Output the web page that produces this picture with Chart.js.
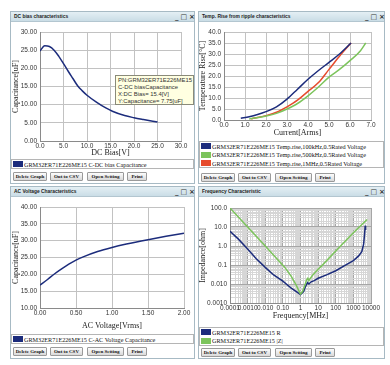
<!DOCTYPE html>
<html><head><meta charset="utf-8">
<script src="https://cdn.jsdelivr.net/npm/chart.js@4.4.0/dist/chart.umd.min.js"></script>
<style>
body{margin:0;width:390px;height:365px;background:#fff;position:relative;overflow:hidden;font-family:"Liberation Sans",Arial,sans-serif}
.panel{position:absolute;border:1px solid #a7bac4;background:#fff;box-sizing:border-box}
.tbar{position:absolute;height:10px;background:linear-gradient(#e4eff4,#cadde6);border-bottom:1px solid #b3c6d0;font:bold 4.9px "Liberation Sans";color:#222;line-height:10px;padding-left:3px;box-sizing:border-box}
.ctl{position:absolute;font:bold 7px "DejaVu Sans";color:#333;line-height:10px;letter-spacing:2px}
.legend{position:absolute;border:1px solid #b5b5b5;background:#fff;font:6.2px "Liberation Serif";color:#111;box-sizing:border-box}
.lrow{position:absolute;left:1px;height:7px;line-height:7px;white-space:nowrap}
.sw{display:inline-block;width:10px;height:6px;vertical-align:top;margin-right:1px;margin-top:0.5px}
.btn{position:absolute;height:9px;border:1px solid #9a9a9a;border-radius:1px;background:linear-gradient(#fdfdfd,#d9d9d9);font:bold 5px "Liberation Serif";text-align:center;line-height:8px;box-sizing:border-box;color:#111;white-space:nowrap}
canvas{position:absolute}
.tip{position:absolute;left:115px;top:75px;width:79px;height:30px;background:#ffffe1;border:1px solid #8a8a7a;box-sizing:border-box;font:5.9px "Liberation Sans";color:#333;line-height:7px;padding:1px 0 0 2px;white-space:nowrap;overflow:hidden}
</style></head>
<body>
<script>
// ---------------- DATA ----------------
const dcBiasV   = [0, 1, 2, 3, 4, 5, 6, 7, 8, 9, 10, 12, 14, 15.4, 18, 20, 22, 25];
const dcBiasCap = [24.8, 26.2, 26.0, 25.0, 23.3, 21.3, 19.2, 17.2, 15.2, 13.8, 12.6, 10.7, 9.1, 8.2, 7.0, 6.4, 5.9, 5.2];
const dcBiasXTicks = ['0.0','5.0','10.0','15.0','20.0','25.0','30.0'];
const dcBiasYTicks = ['0.00','5.00','10.00','15.00','20.00','25.00','30.00'];

const ripple100kI = [0.8, 1.2, 1.6, 2.0, 2.5, 3.0, 3.5, 4.0, 4.5, 5.0, 5.5, 6.05];
const ripple100kT = [0.8, 1.5, 2.5, 3.8, 6.0, 9.5, 14.0, 18.5, 22.5, 26.2, 30.0, 35.0];
const ripple500kI = [1.2, 2.0, 2.5, 3.0, 3.5, 4.0, 4.5, 5.0, 5.5, 6.0, 6.5, 6.75];
const ripple500kT = [0.5, 1.8, 3.0, 5.0, 7.5, 11.0, 15.0, 19.5, 23.0, 27.0, 31.5, 35.0];
const ripple1MI   = [1.3, 2.0, 2.5, 3.0, 3.5, 4.0, 4.5, 5.0, 5.5, 6.05];
const ripple1MT   = [0.5, 2.0, 3.5, 6.0, 9.0, 13.0, 17.0, 23.0, 29.0, 35.0];
const rippleXTicks = ['0.0','1.0','2.0','3.0','4.0','5.0','6.0','7.0'];
const rippleYTicks = ['0.0','5.0','10.0','15.0','20.0','25.0','30.0','35.0','40.0'];

const acVoltage = [0, 0.1, 0.2, 0.3, 0.4, 0.5, 0.6, 0.8, 1.0, 1.2, 1.5, 1.75, 2.0];
const acCap     = [16.8, 18.4, 20.1, 21.6, 23.0, 24.2, 25.2, 26.8, 28.0, 29.0, 30.3, 31.3, 32.2];
const acXTicks = ['0.00','0.50','1.00','1.50','2.00'];
const acYTicks = ['10.00','15.00','20.00','25.00','30.00','35.00','40.00'];

const freqR = [0.0001, 0.0003, 0.001, 0.003, 0.01, 0.03, 0.1, 0.3, 0.7, 1.0, 1.5, 2.0, 2.5, 3.0, 4.0, 6.0, 10, 30, 100, 300, 1000, 2000, 3000, 3800, 4300, 4700, 4800, 5000];
const impR  = [6.0, 2.3, 0.7, 0.22, 0.075, 0.03, 0.014, 0.006, 0.0035, 0.0028, 0.004, 0.008, 0.012, 0.010, 0.013, 0.015, 0.02, 0.03, 0.05, 0.09, 0.17, 0.3, 0.5, 1.2, 4.0, 12, 9, 7];
const freqZ = [0.0001, 0.001, 0.01, 0.13, 0.3, 0.6, 0.9, 1.0, 1.3, 1.8, 2.2, 2.6, 3.0, 3.5, 5, 10, 16, 100, 1000, 6000];
const impZ  = [100, 10, 1.0, 0.075, 0.025, 0.008, 0.0035, 0.003, 0.004, 0.009, 0.016, 0.02, 0.015, 0.019, 0.03, 0.06, 0.09, 0.55, 5, 25];
const freqXTicks = ['0.0001','0.0010','0.010','0.10','1','10','100','1000','10000']; // 1e-4 .. 1e4
const impYTicks  = ['0.0010','0.010','0.1','1.0','10.0','100.0'];                   // 1e-3 .. 1e2

const BLUE = '#1c2c7c', GREEN = '#7cc45c', RED = '#e64a2c';

// ---------------- FRAME ----------------
function el(cls, css, html){const d=document.createElement('div');d.className=cls;Object.assign(d.style,css);if(html!=null)d.innerHTML=html;document.body.appendChild(d);return d;}
function panel(x,y,w,h,title,legendY,rows,btnY){
  el('panel',{left:x+'px',top:y+'px',width:w+'px',height:h+'px'});
  el('tbar',{left:(x+1)+'px',top:(y+1)+'px',width:(w-2)+'px'},title);
  el('ctl',{left:(x+w-20)+'px',top:(y+1)+'px'},'_&#9633;&#215;');
  const lg=el('legend',{left:(x+1)+'px',top:legendY+'px',width:(w-2)+'px',height:(rows.length*8.5+1.5)+'px'});
  rows.forEach((r,i)=>{const d=document.createElement('div');d.className='lrow';d.style.top=(0.5+i*8.5)+'px';d.innerHTML='<span class="sw" style="background:'+r[0]+'"></span>'+r[1];lg.appendChild(d);});
  [['Delete Graph',3,34],['Out to CSV',40,33],['Open Setting',77,37],['Print',117,20]].forEach(b=>{
    el('btn',{left:(x+b[1])+'px',top:btnY+'px',width:b[2]+'px'},b[0]);
  });
}
panel(10,11,185,173,'DC bias characteristics',159,[[BLUE,'GRM32ER71E226ME15 C-DC bias Capacitance']],172);
panel(198,11,187,173,'Temp. Rise from ripple characteristics',141,[[BLUE,'GRM32ER71E226ME15 Temp.rise,100kHz,0.5Rated Voltage'],[GREEN,'GRM32ER71E226ME15 Temp.rise,500kHz,0.5Rated Voltage'],[RED,'GRM32ER71E226ME15 Temp.rise,1MHz,0.5Rated Voltage']],173);
panel(10,186,185,173,'AC Voltage Characteristics',334,[[BLUE,'GRM32ER71E226ME15 C-AC Voltage Capacitance']],347);
panel(198,186,187,173,'Frequency Characteristic',327,[[BLUE,'GRM32ER71E226ME15 R'],[GREEN,'GRM32ER71E226ME15 |Z|']],348);

function canvas(x,y,w,h){const c=document.createElement('canvas');c.width=w;c.height=h;c.style.left=x+'px';c.style.top=y+'px';c.style.width=w+'px';c.style.height=h+'px';document.body.appendChild(c);return c;}

// ---------------- CHARTS ----------------
const TICKFONT={family:'"Liberation Sans", Arial, sans-serif',size:6.5};
const TITLEFONT={family:'"Liberation Serif", serif',size:8};
function pts(xs,ys){return xs.map((x,i)=>({x:x,y:ys[i]}));}
function ds(xs,ys,color,tension){return {data:pts(xs,ys),borderColor:color,borderWidth:1.5,pointRadius:0,fill:false,tension:tension,cubicInterpolationMode:'monotone'};}
function linAxis(min,max,step,labels,title,size,horizontal,tpad){
  return {type:'linear',min:min,max:max,
    ticks:{stepSize:step,autoSkip:false,maxRotation:0,font:TICKFONT,color:'#333',padding:horizontal?1:3,callback:(v,i)=>labels[i]},
    grid:{color:'#c2c2c2',drawTicks:false},border:{color:'#8a8a8a'},
    title:{display:true,text:title,font:TITLEFONT,color:'#222',padding:horizontal?{top:0,bottom:tpad}:{top:tpad,bottom:0}},
    afterFit:s=>{if(horizontal)s.height=size;else s.width=size;}};
}
function mkChart(cv,datasets,xAxis,yAxis,pad){
  return new Chart(cv,{type:'line',data:{datasets:datasets},
    options:{responsive:false,animation:false,devicePixelRatio:1,parsing:true,
      layout:{padding:pad},
      plugins:{legend:{display:false},tooltip:{enabled:false}},
      scales:{x:xAxis,y:yAxis}}});
}

// DC bias
mkChart(canvas(10,24,185,136),[ds(dcBiasV,dcBiasCap,BLUE,0.4)],
  linAxis(0,30,5,dcBiasXTicks,'DC Bias[V]',19,true,2),
  linAxis(0,30,5,dcBiasYTicks,'Capacitance[uF]',30,false,1),
  {top:8,right:14,left:0,bottom:0});

// Ripple
mkChart(canvas(198,24,187,115),[ds(ripple100kI,ripple100kT,BLUE,0.4),ds(ripple500kI,ripple500kT,GREEN,0.4),ds(ripple1MI,ripple1MT,RED,0.4)],
  linAxis(0,7,1,rippleXTicks,'Current[Arms]',19,true,1),
  linAxis(0,40,5,rippleYTicks,'Temperature Rise[\u00B0C]',26,false,0),
  {top:8,right:14,left:0,bottom:0});

// AC voltage
mkChart(canvas(10,199,185,134),[ds(acVoltage,acCap,BLUE,0.4)],
  linAxis(0,2,0.5,acXTicks,'AC Voltage[Vrms]',25,true,2),
  linAxis(10,40,5,acYTicks,'Capacitance[uF]',30,false,1),
  {top:8,right:11,left:0,bottom:0});

// Frequency (log-log)
function isDecade(v){const e=Math.log10(v);return Math.abs(e-Math.round(e))<1e-6;}
function logAxis(min,max,labels,title,size,horizontal,tpad){
  const e0=Math.round(Math.log10(min));
  return {type:'logarithmic',min:min,max:max,
    ticks:{autoSkip:false,maxRotation:0,font:TICKFONT,color:'#333',padding:horizontal?1:3,
      callback:v=>isDecade(v)?labels[Math.round(Math.log10(v))-e0]:''},
    grid:{drawTicks:false,color:c=>isDecade(c.tick.value)?'#a6a6a6':'#d6d6d6'},border:{color:'#8a8a8a'},
    title:{display:true,text:title,font:TITLEFONT,color:'#222',padding:horizontal?{top:0,bottom:tpad}:{top:tpad,bottom:0}},
    afterFit:s=>{if(horizontal)s.height=size;else s.width=size;}};
}
mkChart(canvas(198,199,187,124),[
    Object.assign(ds(freqZ,impZ,GREEN,0),{cubicInterpolationMode:'default'}),
    Object.assign(ds(freqR,impR,BLUE,0),{cubicInterpolationMode:'default'})],
  logAxis(0.0001,10000,freqXTicks,'Frequency[MHz]',20,true,2),
  logAxis(0.001,100,impYTicks,'Impedance[ohm]',32,false,0),
  {top:9,right:14,left:0,bottom:0});
</script>
<div class="tip">PN:GRM32ER71E226ME15<br>C-DC biasCapacitance<br>X:DC Bias= 15.4[V]<br>Y:Capacitance= 7.75[uF]</div>
</body></html>
